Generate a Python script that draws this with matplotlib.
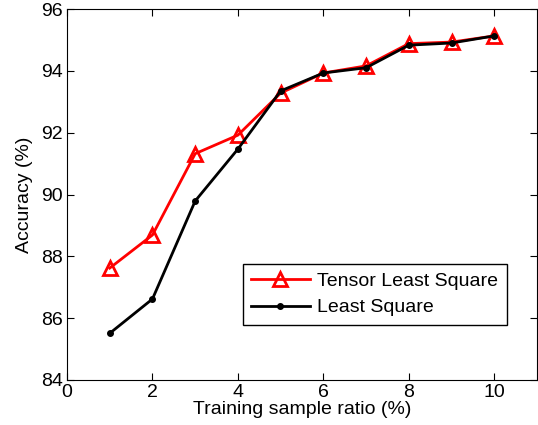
import matplotlib
matplotlib.use("Agg")
import matplotlib.pyplot as plt

plt.rcParams['font.family'] = ['Liberation Sans', 'DejaVu Sans']

ratio = [1, 2, 3, 4, 5, 6, 7, 8, 9, 10]
tensor_ls = [87.62, 88.69, 91.32, 91.92, 93.28, 93.93, 94.16, 94.88, 94.93, 95.13]
least_sq = [85.51, 86.62, 89.79, 91.47, 93.35, 93.93, 94.10, 94.83, 94.90, 95.13]
xticks = [0, 2, 4, 6, 8, 10]
yticks = [84, 86, 88, 90, 92, 94, 96]

fig = plt.figure(figsize=(5.38, 4.25), dpi=100)
ax = fig.add_axes([67/538, 1-380/425, (537-67)/538, (380-9)/425])
ax.plot(ratio, tensor_ls, color='red', lw=2, marker='^', ms=10, mfc='none', mec='red', mew=2, label='Tensor Least Square')
ax.plot(ratio, least_sq, color='black', lw=2, marker='o', ms=4, mfc='black', mec='black', label='Least Square')
ax.set_xlim(0, 11)
ax.set_ylim(84, 96)
ax.set_xticks(xticks)
ax.set_yticks(yticks)
ax.tick_params(direction='in', top=True, right=True, labelsize=14, length=5, width=0.8, pad=3)
ax.set_xlabel('Training sample ratio (%)', fontsize=14, labelpad=0)
ax.set_ylabel('Accuracy (%)', fontsize=14, labelpad=6)
leg = ax.legend(loc='lower right', bbox_to_anchor=(0.9365, 0.148), fontsize=14, fancybox=False, framealpha=1, edgecolor='black', handlelength=3.0, handletextpad=0.4, borderpad=0.45, labelspacing=0.45, borderaxespad=0)
leg.get_frame().set_linewidth(1)
fig.savefig('out.png', dpi=100)
